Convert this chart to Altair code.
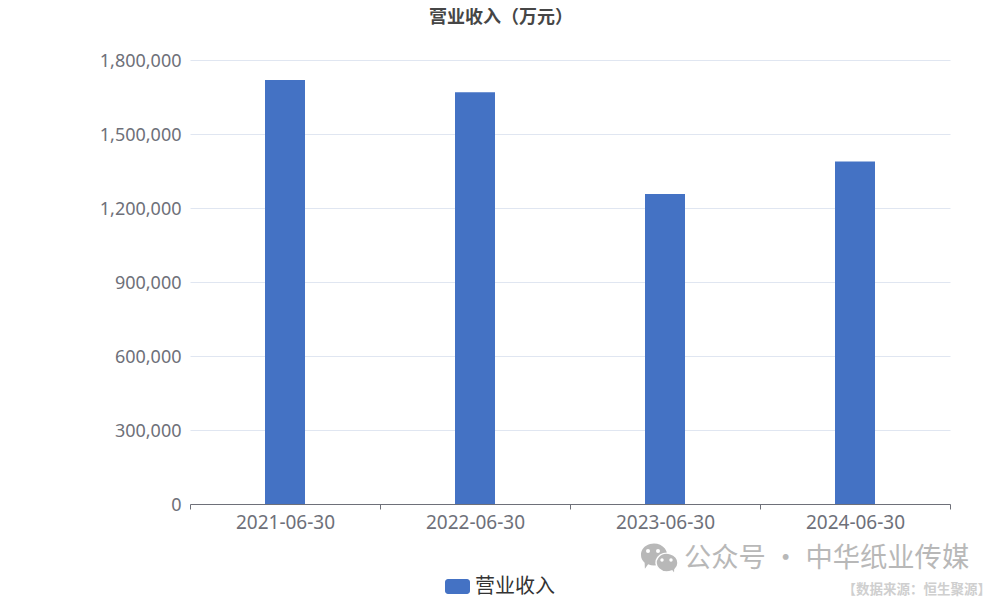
import altair as alt
import pandas as pd

dates = ["2021-06-30", "2022-06-30", "2023-06-30", "2024-06-30"]
revenue = [1719000, 1669000, 1257000, 1389000]
series_name = "营业收入"
title_text = "营业收入（万元）"
watermark = "公众号 · 中华纸业传媒"
source_note = "【数据来源：恒生聚源】"
y_ticks = [0, 300000, 600000, 900000, 1200000, 1500000, 1800000]

CJK = "Noto Sans CJK SC"
LATIN = "Noto Sans"
df = pd.DataFrame({"date": dates, "revenue": revenue, "series": [series_name] * len(dates)})

round_rect = ("M-1,-0.36A0.24,0.24 0 0 1 -0.76,-0.6H0.76A0.24,0.24 0 0 1 1,-0.36V0.36"
              "A0.24,0.24 0 0 1 0.76,0.6H-0.76A0.24,0.24 0 0 1 -1,0.36Z")

bars = alt.Chart(df).mark_bar(size=40).encode(
    x=alt.X("date:N", sort=dates,
            scale=alt.Scale(paddingInner=0, paddingOuter=0),
            axis=alt.Axis(title=None, labelAngle=0, labelFont=LATIN, labelFontSize=19,
                          labelColor="#6E7079", labelPadding=4, domainColor="#6E7079",
                          tickColor="#6E7079", tickSize=5, tickBand="extent", grid=False)),
    y=alt.Y("revenue:Q", scale=alt.Scale(domain=[0, 1800000], nice=False),
            axis=alt.Axis(title=None, values=y_ticks, format=",.0f", labelFont=LATIN, labelFontSize=18,
                          labelColor="#6E7079", labelPadding=9, labelOffset=1, domain=False, ticks=False,
                          gridColor="#E0E6F1", gridWidth=1)),
    color=alt.Color("series:N", scale=alt.Scale(range=["#4472C4"]),
                    legend=alt.Legend(title=None, orient="none", legendX=255, legendY=514,
                                      symbolType=round_rect, symbolSize=625, symbolStrokeWidth=0,
                                      symbolOpacity=1, labelFont=CJK, labelFontSize=20,
                                      labelColor="#333333", labelOffset=5)),
)

def label(text, x, y, size, color, align="center", weight="normal"):
    return alt.Chart(pd.DataFrame({"t": [text]})).mark_text(
        font=CJK, fontSize=size, color=color, align=align, baseline="middle", fontWeight=weight
    ).encode(x=alt.value(x), y=alt.value(y), text="t:N")

wm = label(watermark, 494, 499, 27.3, "#B8B8B8", align="left")
src = label(source_note, 801, 530, 13.5, "#CFCFCF", align="right", weight="bold")

bubble = "M-1,0A1,0.85 0 1 1 -0.45,0.72L-0.7,1.05L-0.72,0.6A1,0.85 0 0 1 -1,0Z"
bubble2 = "M1,0A1,0.85 0 1 0 0.45,0.72L0.7,1.05L0.72,0.6A1,0.85 0 0 0 1,0Z"

def dot(x, y, size, color, shape="circle", stroke=None):
    kw = {"stroke": stroke, "strokeWidth": 1.5} if stroke else {"strokeWidth": 0}
    return alt.Chart(pd.DataFrame({"s": [0]})).mark_point(
        filled=True, opacity=1, shape=shape, color=color, **kw
    ).encode(x=alt.value(x), y=alt.value(y), size=alt.value(size))

icon = alt.layer(
    dot(464, 495, 676, "#B8B8B8", bubble),
    dot(458, 491, 16, "#FFFFFF"), dot(468, 491, 16, "#FFFFFF"),
    dot(477, 503, 484, "#B8B8B8", bubble2, stroke="#FFFFFF"),
    dot(472, 500, 12, "#FFFFFF"), dot(481, 500, 12, "#FFFFFF"),
)

chart = alt.layer(bars, wm, src, icon).properties(
    width=760,
    height=444,
    background="white",
    title=alt.TitleParams(title_text, font=CJK, fontSize=18, fontWeight="bold", color="#464646",
                          anchor="middle", dx=-69, offset=25),
    autosize=alt.AutoSizeParams(type="none"),
    padding={"left": 182, "top": 52, "right": 42, "bottom": 96},
).configure_view(stroke=None)

chart.save("out.html", embed_options={"renderer": "svg", "actions": False})
